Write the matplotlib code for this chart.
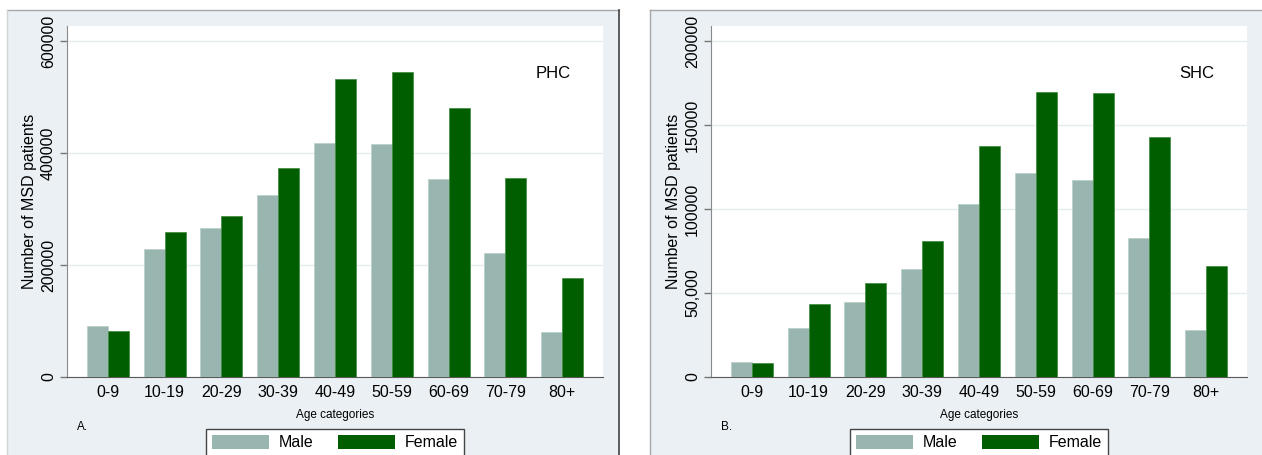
import matplotlib.pyplot as plt
from matplotlib.patches import Rectangle
from matplotlib.lines import Line2D
import numpy as np

# Data
ages = ['0-9', '10-19', '20-29', '30-39', '40-49', '50-59', '60-69', '70-79', '80+']
phc_male = [91000, 228000, 266000, 325000, 418000, 416000, 353000, 222000, 80000]
phc_female = [82000, 259000, 287000, 373000, 532000, 545000, 480000, 355000, 177000]
shc_male = [9100, 29300, 44800, 64400, 103000, 121600, 117000, 83000, 28000]
shc_female = [8100, 43400, 55700, 80900, 137400, 169600, 169200, 142800, 66000]

phc_ticks = [0, 200000, 400000, 600000]
phc_ticklabels = ['0', '200000', '400000', '600000']
shc_ticks = [0, 50000, 100000, 150000, 200000]
shc_ticklabels = ['0', '50,000', '100000', '150000', '200000']

W, H = 1262, 455
MALE = '#98B6AF'
FEMALE = '#005E00'
BG = '#EAF0F3'

plt.rcParams['font.family'] = ['Liberation Sans', 'DejaVu Sans']

fig = plt.figure(figsize=(W / 100, H / 100), dpi=100)
fig.patch.set_facecolor('white')


def fx(px):
    return px / W


def fy(py):
    return 1 - py / H


def panel(x0, x1, left_col, right_col):
    # grey-blue outer background of a Stata graph
    fig.patches.append(Rectangle((fx(x0), 0), fx(x1 - x0), fy(10), transform=fig.transFigure,
                                 facecolor=BG, edgecolor='none', zorder=-2))
    fig.lines.append(Line2D([fx(x0), fx(x1)], [fy(10), fy(10)], transform=fig.transFigure,
                            color='#A8A8A8', lw=1, zorder=-1))
    fig.lines.append(Line2D([fx(x0), fx(x0)], [0, fy(10)], transform=fig.transFigure,
                            color=left_col, lw=1, zorder=-1))
    if right_col:
        fig.lines.append(Line2D([fx(x1), fx(x1)], [0, fy(10)], transform=fig.transFigure,
                                color=right_col, lw=1.2, zorder=-1))


def draw(x0, x1, male, female, ticks, ticklabels, tag, letter):
    ax = fig.add_axes([fx(x0), fy(377), fx(x1 - x0), fy(26) - fy(377)])
    top = ticks[-1] * 351 / 336
    x = np.arange(len(ages))
    w = 0.37
    ax.bar(x - w / 2, male, w, color=MALE, edgecolor='#B9CFCA', lw=0.5, zorder=3)
    ax.bar(x + w / 2, female, w, color=FEMALE, edgecolor='#3E8A3E', lw=0.5, zorder=3)
    ax.set_xlim(-0.72, len(ages) - 1 + 0.72)
    ax.set_ylim(0, top)
    ax.set_xticks(x)
    ax.set_xticklabels(ages, fontsize=11.5)
    ax.set_yticks(ticks)
    ax.set_yticklabels(ticklabels, fontsize=11.5, rotation=90, va='center')
    ax.tick_params(axis='x', length=0, pad=6)
    ax.tick_params(axis='y', length=5, width=1, color='#777777', pad=3)
    ax.grid(axis='y', color='#E4EDEF', lw=1, zorder=0)
    for s in ['top', 'right']:
        ax.spines[s].set_visible(False)
    ax.spines['left'].set_color('#8A8A8A')
    ax.spines['bottom'].set_color('#5A5A5A')
    ax.set_ylabel('Number of MSD patients', fontsize=11.5, labelpad=3)
    ax.text(0.907, 0.865, tag, transform=ax.transAxes, fontsize=12, ha='center', va='center')
    cx = (x0 + x1) / 2
    fig.text(fx(cx), fy(415), 'Age categories', fontsize=8.5, ha='center', va='center')
    fig.text(fx(x0 + 10), fy(427), letter, fontsize=8.5, ha='left', va='center')
    handles = [Rectangle((0, 0), 1, 1, facecolor=MALE, edgecolor='none'),
               Rectangle((0, 0), 1, 1, facecolor=FEMALE, edgecolor='none')]
    leg = fig.legend(handles, ['Male', 'Female'], loc='upper center',
                     bbox_to_anchor=(fx(cx), fy(429)), ncol=2, fontsize=11.5,
                     frameon=True, fancybox=False, framealpha=1, handlelength=3.6,
                     handleheight=1.0, borderpad=0.35, columnspacing=1.5,
                     handletextpad=0.6, borderaxespad=0)
    leg.get_frame().set_edgecolor('#444444')
    leg.get_frame().set_linewidth(1)
    return ax


panel(7, 619, '#D0D6D8', '#404040')
panel(650, 1262, '#A8A8A8', None)

draw(67, 603, phc_male, phc_female, phc_ticks, phc_ticklabels, 'PHC', 'A.')
draw(711, 1247, shc_male, shc_female, shc_ticks, shc_ticklabels, 'SHC', 'B.')

fig.savefig('out.png', dpi=100)
